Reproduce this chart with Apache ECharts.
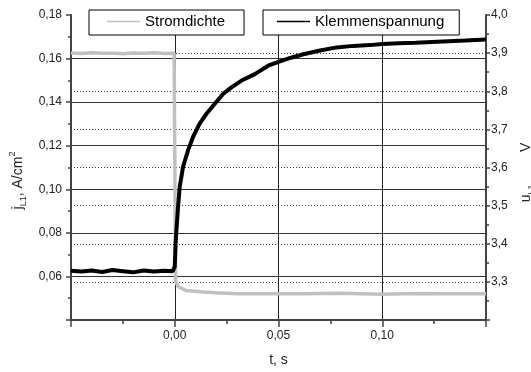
<!DOCTYPE html>
<html>
<head>
<meta charset="utf-8">
<script src="https://cdn.jsdelivr.net/npm/echarts@6/dist/echarts.min.js"></script>
<style>
  html, body { margin: 0; padding: 0; background: #fff; }
  #chart { width: 531px; height: 372px; }
</style>
</head>
<body>
<div id="chart"></div>
<script>
// Klemmenspannung (rechte Achse, V)
const timeVolt = [-0.05, -0.045, -0.04, -0.035, -0.03, -0.025, -0.02, -0.015, -0.01, -0.005, -0.001,
  0.0, 0.0004, 0.0008, 0.0016, 0.0024, 0.004, 0.0064, 0.0088, 0.012, 0.0153, 0.0193, 0.0233,
  0.0273, 0.0322, 0.0386, 0.045, 0.05, 0.056, 0.062, 0.07, 0.078, 0.086, 0.094, 0.1, 0.108,
  0.116, 0.124, 0.132, 0.14, 0.15]
const volt = [3.329, 3.327, 3.330, 3.326, 3.331, 3.328, 3.325, 3.330, 3.327, 3.329, 3.328,
  3.34, 3.40, 3.435, 3.497, 3.549, 3.602, 3.645, 3.680, 3.715, 3.741, 3.767, 3.793,
  3.810, 3.828, 3.845, 3.867, 3.877, 3.888, 3.897, 3.907, 3.915, 3.919, 3.921, 3.924, 3.926,
  3.927, 3.929, 3.931, 3.933, 3.936]

// Stromdichte (linke Achse, A/cm²)
const timeCurr = [-0.05, -0.045, -0.04, -0.035, -0.03, -0.025, -0.02, -0.015, -0.01, -0.005, -0.0003,
  0.0004, 0.0016, 0.0024, 0.0056, 0.0137, 0.02, 0.03, 0.04, 0.05, 0.06, 0.07, 0.08, 0.09,
  0.1, 0.11, 0.12, 0.13, 0.14, 0.15]
const curr = [0.1626, 0.1623, 0.1627, 0.1624, 0.1625, 0.1622, 0.1626, 0.1624, 0.1627, 0.1623, 0.1624,
  0.058, 0.0554, 0.0546, 0.0535, 0.0528, 0.0525, 0.0521, 0.0520, 0.0520, 0.0521, 0.0522, 0.0523, 0.0521,
  0.0518, 0.0521, 0.0522, 0.0520, 0.0521, 0.0521]

const seriesNames = ['Stromdichte', 'Klemmenspannung']

const font = "'Liberation Sans', Arial, sans-serif"
const axisColor = '#444'
const comma = (v, d) => v.toFixed(d).replace('.', ',')

const chart = echarts.init(document.getElementById('chart'))

const legendBox = (name, left, color, pad) => ({
  data: [name],
  left: left,
  top: 10,
  icon: 'rect',
  itemWidth: 33,
  itemHeight: 1.5,
  padding: pad,
  borderColor: '#000',
  borderWidth: 1,
  borderRadius: 0,
  backgroundColor: '#fff',
  itemStyle: { color: color },
  textStyle: { fontSize: 15, color: '#000', fontFamily: font },
  selectedMode: false,
  z: 10,
})

// Formelzeichen mit Index/Exponent
const titleRich = {
  m: { fontSize: 14, lineHeight: 20, fontFamily: font, color: '#222' },
  sub: { fontSize: 9, lineHeight: 12, verticalAlign: 'bottom', fontFamily: font, color: '#222' },
  sup: { fontSize: 9, lineHeight: 9, verticalAlign: 'top', fontFamily: font, color: '#222' },
  gap: { width: 30, lineHeight: 20 },
}

const option = {
  animation: false,
  textStyle: { fontFamily: font },
  grid: { left: 71, right: 45, top: 15, bottom: 52, containLabel: false, outerBoundsMode: 'none' },
  legend: [
    legendBox(seriesNames[0], 89, '#c0c0c0', [4, 19, 6, 18]),
    legendBox(seriesNames[1], 263, '#000', [4, 15, 6, 14]),
  ],
  xAxis: {
    type: 'value',
    min: -0.05,
    max: 0.15,
    interval: 0.05,
    name: 't, s',
    nameLocation: 'middle',
    nameGap: 33,
    nameTextStyle: { fontSize: 14, color: '#222', fontFamily: font },
    axisLine: { onZero: false, lineStyle: { color: axisColor, width: 2 } },
    axisTick: { length: 7, lineStyle: { color: axisColor, width: 1.5 } },
    minorTick: { show: true, splitNumber: 2, length: 4, lineStyle: { color: axisColor, width: 1.5 } },
    axisLabel: {
      showMinLabel: false,
      showMaxLabel: false,
      margin: 10,
      fontSize: 12,
      color: '#222',
      fontFamily: font,
      formatter: (v) => comma(v, 2),
    },
    splitLine: { show: true, showMinLine: false, showMaxLine: false, lineStyle: { color: '#222', width: 1 } },
  },
  yAxis: [
    {
      type: 'value',
      position: 'left',
      min: 0.04,
      max: 0.18,
      interval: 0.02,
      name: '{m|j}{sub|L1}{m|, A/cm}{sup|2}',
      nameLocation: 'middle',
      nameGap: 41,
      nameTextStyle: { color: '#222', padding: [0, 26, 0, 0], rich: titleRich },
      axisLine: { show: true, onZero: false, lineStyle: { color: axisColor, width: 2 } },
      axisTick: { length: 5, lineStyle: { color: axisColor, width: 1.5 } },
      minorTick: { show: true, splitNumber: 2, length: 3, lineStyle: { color: axisColor, width: 1.5 } },
      axisLabel: {
        showMinLabel: false,
        margin: 9,
        fontSize: 12,
        color: '#222',
        fontFamily: font,
        formatter: (v) => comma(v, 2),
      },
      splitLine: { show: true, showMinLine: false, showMaxLine: false, lineStyle: { color: '#333', width: 1 } },
    },
    {
      type: 'value',
      position: 'right',
      min: 3.2,
      max: 4.0,
      interval: 0.1,
      name: '{m|u}{sub|L1,}{gap|}{m|V}',
      nameLocation: 'middle',
      nameGap: 30,
      nameTextStyle: { color: '#222', padding: [0, 10, 0, 0], rich: titleRich },
      axisLine: { show: true, onZero: false, lineStyle: { color: axisColor, width: 2 } },
      axisTick: { length: 4, lineStyle: { color: axisColor, width: 1.5 } },
      minorTick: { show: true, splitNumber: 2, length: 3, lineStyle: { color: axisColor, width: 1.5 } },
      axisLabel: {
        showMinLabel: false,
        margin: 5,
        fontSize: 12,
        color: '#222',
        fontFamily: font,
        formatter: (v) => comma(v, 1),
      },
      splitLine: {
        show: true,
        showMinLine: false,
        showMaxLine: false,
        lineStyle: { color: '#333', width: 1, type: [1, 2] },
      },
    },
  ],
  series: [
    {
      name: seriesNames[0],
      type: 'line',
      yAxisIndex: 0,
      symbol: 'none',
      data: timeCurr.map((t, i) => [t, curr[i]]),
      lineStyle: { color: '#c0c0c0', width: 3.5 },
      itemStyle: { color: '#c0c0c0' },
      z: 3,
    },
    {
      name: seriesNames[1],
      type: 'line',
      yAxisIndex: 1,
      symbol: 'none',
      data: timeVolt.map((t, i) => [t, volt[i]]),
      lineStyle: { color: '#000', width: 4 },
      itemStyle: { color: '#000' },
      z: 4,
    },
  ],
}

chart.setOption(option)
</script>
</body>
</html>
